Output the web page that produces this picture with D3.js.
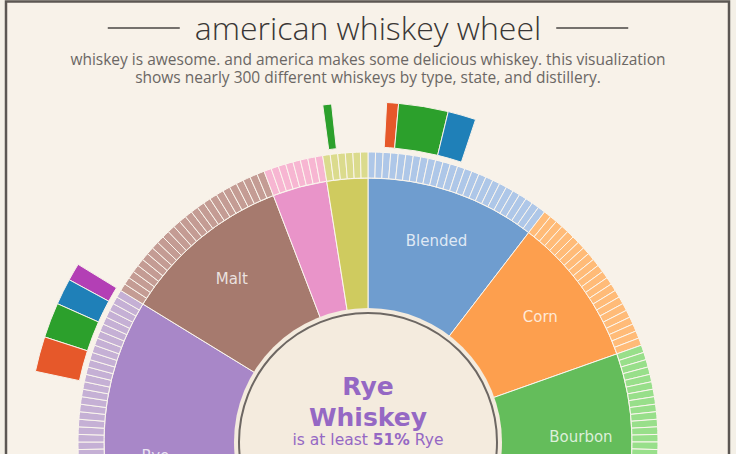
<!DOCTYPE html>
<html>
<head>
<meta charset="utf-8">
<script src="https://cdn.jsdelivr.net/npm/d3@7"></script>
<style>
  html, body { margin: 0; padding: 0; background: #f4f0e7; }
  svg { display: block; }
</style>
</head>
<body>
<svg id="chart" width="736" height="454"></svg>
<script>
// ---------- data ----------
const titleText = "american whiskey wheel";
const subtitleLines = [
  "whiskey is awesome. and america makes some delicious whiskey. this visualization",
  "shows nearly 300 different whiskeys by type, state, and distillery."
];
const types = ["Blended", "Corn", "Bourbon", "Tennessee", "Rye", "Malt", "Wheat", "Other"];
const whiskeyCounts = [25, 22, 24, 83, 47, 25, 8, 6];
const typeColors = ["#6f9dcf", "#fd9f4e", "#64bd5b", "#e0605c", "#a887c8", "#a67a6e", "#e994c9", "#cfcb5f"];
const ringColors = ["#aec7e8", "#ffbb78", "#98df8a", "#ff9896", "#c5b0d5", "#c49c94", "#f7b6d2", "#dbdb8d"];
// outer distillery bars, in whiskey units measured clockwise from the top
const barStart = [-5.1, 2.1, 3.45, 9.1, -39, -41, -44, -48];
const barEnd   = [-4.1, 3.45, 9.1, 12.3, -41, -44, -48, -52];
const barColors = ["#2ca02c", "#e6582a", "#2ca02c", "#1f80b8", "#b33fb5", "#1f80b8", "#2ca02c", "#e6582a"];
const highlight = { name: "Rye", line2: "Whiskey", pre: "is at least ", pct: "51%", post: " Rye" };

// ---------- layout ----------
const W = 736, H = 454;
const cx = 368, cy = 442;
const rTypeIn = 130, rTypeOut = 264, rRingIn = 264, rRingOut = 290, rBarIn = 295, rBarOut = 340;
const rDisc = 134, rDiscLine = 129;

const svg = d3.select("#chart");

// frame
svg.append("rect").attr("x", 6).attr("y", 1.5).attr("width", 723).attr("height", 520)
  .attr("fill", "#f8f2e9").attr("stroke", "#5c5753").attr("stroke-width", 2.5);

// title
const title = svg.append("text").attr("x", cx).attr("y", 40).attr("text-anchor", "middle")
  .attr("font-family", "Open Sans").attr("font-weight", 300).attr("font-size", 32)
  .attr("fill", "#3a3735").text(titleText);
const tw = title.node().getComputedTextLength();
[[-1], [1]].forEach(([s]) => {
  const x0 = cx + s * (tw / 2 + 15), x1 = cx + s * (tw / 2 + 87);
  svg.append("line").attr("x1", x0).attr("x2", x1).attr("y1", 28).attr("y2", 28)
    .attr("stroke", "#4a4643").attr("stroke-width", 1.5);
});
subtitleLines.forEach((t, i) => {
  svg.append("text").attr("x", cx).attr("y", 65 + i * 17.5).attr("text-anchor", "middle")
    .attr("font-family", "Open Sans").attr("font-size", 15.5).attr("fill", "#6b6764").text(t);
});

// wheel
const N = d3.sum(whiskeyCounts);
const angle = d3.scaleLinear().domain([0, N]).range([0, 2 * Math.PI]);
const g = svg.append("g").attr("transform", `translate(${cx},${cy})`);

const typeData = [];
let acc = 0;
types.forEach((t, i) => {
  typeData.push({ name: t, i, start: acc, end: acc + whiskeyCounts[i] });
  acc += whiskeyCounts[i];
});

const typeArc = d3.arc().innerRadius(rTypeIn).outerRadius(rTypeOut)
  .startAngle(d => angle(d.start)).endAngle(d => angle(d.end));
g.selectAll("path.type").data(typeData).join("path").attr("class", "type")
  .attr("d", typeArc).attr("fill", d => typeColors[d.i])
  .attr("stroke", "#fbf6ee").attr("stroke-width", 1);

const segData = typeData.flatMap(d => d3.range(whiskeyCounts[d.i]).map(k => ({ i: d.i, start: d.start + k, end: d.start + k + 1 })));
const ringArc = d3.arc().innerRadius(rRingIn).outerRadius(rRingOut)
  .startAngle(d => angle(d.start)).endAngle(d => angle(d.end));
g.selectAll("path.seg").data(segData).join("path").attr("class", "seg")
  .attr("d", ringArc).attr("fill", d => ringColors[d.i])
  .attr("stroke", "#fbf6ee").attr("stroke-width", 1);

const barData = barStart.map((s, i) => ({ start: s, end: barEnd[i], c: barColors[i] }));
const barArc = d3.arc().innerRadius(rBarIn).outerRadius(rBarOut)
  .startAngle(d => angle(Math.min(d.start, d.end))).endAngle(d => angle(Math.max(d.start, d.end)));
g.selectAll("path.bar").data(barData).join("path").attr("class", "bar")
  .attr("d", barArc).attr("fill", d => d.c)
  .attr("stroke", "#f8f2e9").attr("stroke-width", 1);

// type labels
const labelArc = d3.arc().innerRadius(162).outerRadius(rTypeOut)
  .startAngle(d => angle(d.start)).endAngle(d => angle(d.end));
g.selectAll("text.lab").data(typeData.filter(d => whiskeyCounts[d.i] >= 15)).join("text").attr("class", "lab")
  .attr("transform", d => `translate(${labelArc.centroid(d)})`)
  .attr("text-anchor", "middle").attr("dy", "0.36em")
  .attr("font-family", "DejaVu Sans").attr("font-size", 15)
  .attr("fill", "rgba(255,255,255,0.78)").text(d => d.name);

// center disc
g.append("circle").attr("r", rDisc).attr("fill", "#f4ebde");
g.append("circle").attr("r", rDiscLine).attr("fill", "none").attr("stroke", "#6d6763").attr("stroke-width", 2);
const purple = "#9568c4";
g.append("text").attr("y", -47).attr("text-anchor", "middle").attr("font-family", "DejaVu Sans")
  .attr("font-weight", "bold").attr("font-size", 25).attr("fill", purple).text(highlight.name);
g.append("text").attr("y", -16).attr("text-anchor", "middle").attr("font-family", "DejaVu Sans")
  .attr("font-weight", "bold").attr("font-size", 25).attr("fill", purple).text(highlight.line2);
const sub = g.append("text").attr("y", 3).attr("text-anchor", "middle").attr("font-family", "DejaVu Sans")
  .attr("font-size", 15.5).attr("fill", purple);
sub.append("tspan").text(highlight.pre);
sub.append("tspan").attr("font-weight", "bold").text(highlight.pct);
sub.append("tspan").text(highlight.post);
</script>
</body>
</html>
